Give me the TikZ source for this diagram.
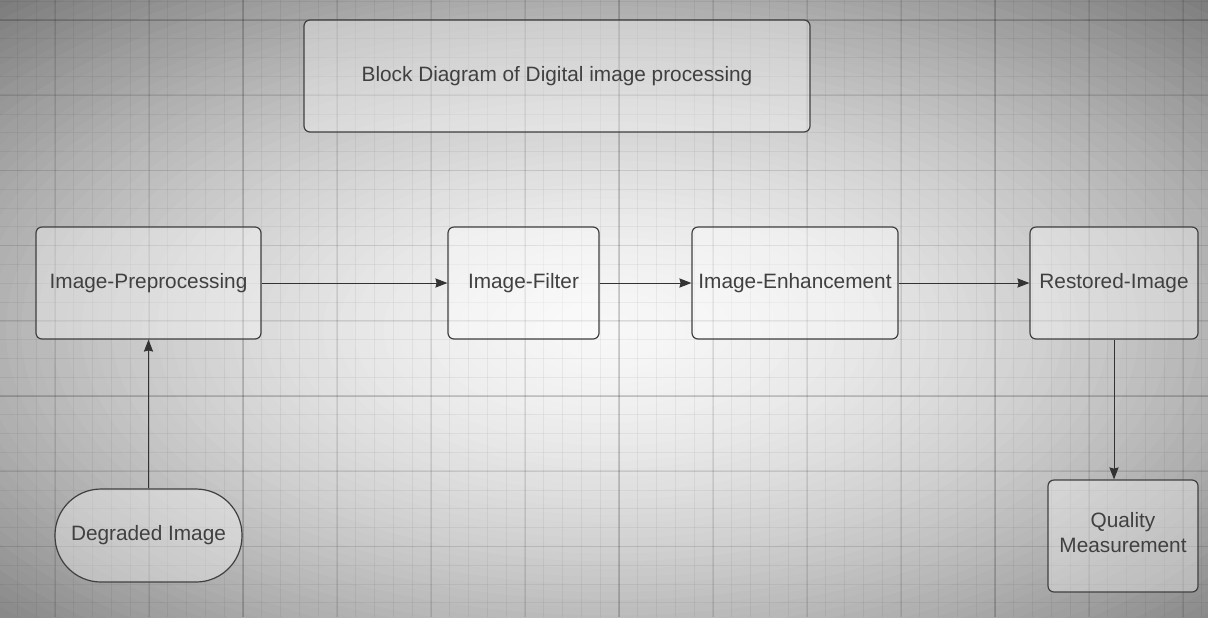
\documentclass[tikz,border=0pt]{standalone}
\usepackage{fontspec}
\setmainfont{Liberation Sans}
\usetikzlibrary{arrows.meta,positioning}
\tikzstyle{caja} = [rectangle, rounded corners=3pt, inner sep=0pt, minimum height=56pt, text centered, draw=black!75, line width=0.6pt, fill=white, fill opacity=0.35, text opacity=1, text=black!75, font=\fontsize{10.4}{12.5}\selectfont]
\tikzstyle{capsula} = [caja, rounded corners=23pt, minimum height=46.5pt]
\tikzstyle{arrow} = [draw=black!80, line width=0.5pt, -{Stealth[length=6pt,width=4.6pt,inset=0.6pt]}]
\tikzstyle{rejilla} = [black, opacity=0.05, line width=0.5pt]
\tikzstyle{rejillamedia} = [black, opacity=0.07, line width=0.8pt]
\tikzstyle{rejillamayor} = [black, opacity=0.09, line width=1.1pt]
\newcommand{\subir}[1]{\raisebox{1.5pt}[\height][\depth]{#1}}

\begin{document}
\begin{tikzpicture}[x=0.5pt, y=-0.5pt]
	\useasboundingbox (0,0) rectangle (1208,617);
	% Fondo
	\begin{scope}
		\clip (0,0) rectangle (1208,617);
		\fill[black!53] (0,0) rectangle (1208,617);
		\foreach \i in {0,...,59}{
			\pgfmathsetmacro\s{1.5*(1-\i/60)}
			\pgfmathsetmacro\p{3+26*\s^1.6}
			\fill[black!\p] (610,330) ellipse [x radius=604*\s, y radius=308.5*\s];
		}
		\foreach \i in {0,...,64} \draw[rejilla] (17.5+18.8*\i,0) -- (17.5+18.8*\i,617);
		\foreach \i in {0,...,33} \draw[rejilla] (0,1.2+18.8*\i) -- (1208,1.2+18.8*\i);
		\foreach \i in {0,...,12} \draw[rejillamedia] (55.1+94*\i,0) -- (55.1+94*\i,617);
		\foreach \i in {0,...,7} \draw[rejillamedia] (0,20+75.2*\i) -- (1208,20+75.2*\i);
		\foreach \x in {243.1,619.1,995.1} \draw[rejillamayor] (\x,0) -- (\x,617);
		\foreach \y in {20,396} \draw[rejillamayor] (0,\y) -- (1208,\y);
	\end{scope}
	% Cuadros
	\node (titulo) [caja, minimum width=253pt] at (557,76) {Block Diagram of Digital image processing};
	\node (pre) [caja, minimum width=112.5pt] at (148.5,283) {Image-Preprocessing};
	\node (filtro) [caja, minimum width=75.5pt] at (523.5,283) {Image-Filter};
	\node (mejora) [caja, minimum width=103pt] at (795,283) {Image-Enhancement};
	\node (restaurada) [caja, minimum width=84pt] at (1114,283) {Restored-Image};
	\node (degradada) [capsula, minimum width=93.5pt] at (148.5,535.5) {Degraded Image};
	\node (calidad) [caja, minimum width=75pt, align=center] at (1123,536) {\subir{Quality}\\\subir{Measurement}};
	% Flechas
	\draw[arrow] (degradada) -- (pre);
	\draw[arrow] (pre) -- (filtro);
	\draw[arrow] (filtro) -- (mejora);
	\draw[arrow] (mejora) -- (restaurada);
	\draw[arrow] (restaurada.south) -- (restaurada.south |- calidad.north);
\end{tikzpicture}
\end{document}
